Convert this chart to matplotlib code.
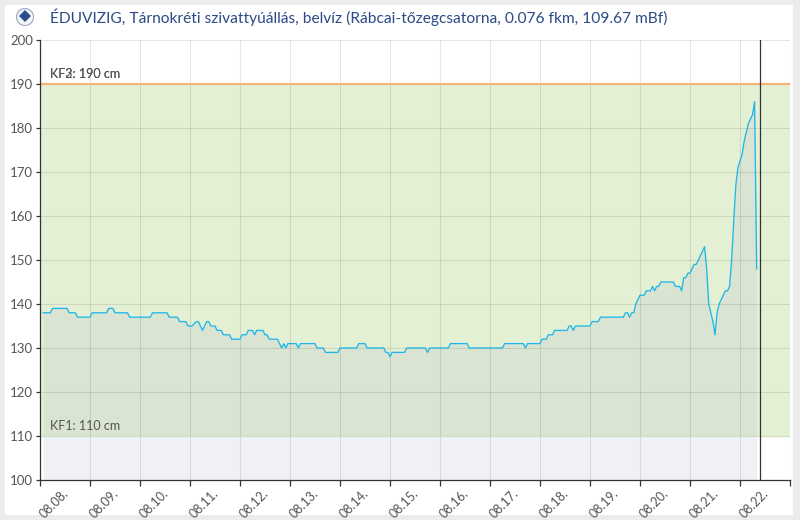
import matplotlib
matplotlib.use("Agg")
import matplotlib.pyplot as plt
from matplotlib.patches import Rectangle, Ellipse, Polygon
from matplotlib.transforms import ScaledTranslation, blended_transform_factory
import numpy as np

plt.rcParams['font.family'] = ['Lato', 'DejaVu Sans']

title = "ÉDUVIZIG, Tárnokréti szivattyúállás, belvíz (Rábcai-tőzegcsatorna, 0.076 fkm, 109.67 mBf)"

# hours since 08.08. 00:00
hours = [1.5, 5, 6, 13, 14, 17, 18, 24, 25, 32, 33, 35, 36, 42, 43, 53, 54, 61, 62, 66,
         67, 70, 71, 73, 75, 76, 78, 80, 81, 82, 84, 85, 87, 88, 91, 92, 96, 97, 99, 100,
         102, 103, 104, 107, 108, 109, 110, 114, 115, 116, 117, 118, 119, 123, 124, 125,
         132, 133, 136, 137, 143, 144, 152, 153, 156, 157, 165, 166, 167, 168, 169, 175,
         176, 185, 186, 187, 196, 197, 205, 206, 222, 223, 232, 233, 234, 240, 241, 243,
         244, 246, 247, 253, 254, 255, 256, 257, 264, 265, 268, 269, 280, 281, 282, 283,
         284, 285, 286, 287, 288, 290, 291, 293, 294, 295, 296, 297, 298, 304, 305, 307,
         308, 309, 310, 311, 312, 313, 314, 315, 317, 319, 320, 321, 323, 324, 325, 326,
         328, 329, 330, 331, 332, 333, 334, 335, 337, 338, 340, 342, 343, 344]
levels = [138, 138, 139, 139, 138, 138, 137, 137, 138, 138, 139, 139, 138, 138, 137, 137, 138, 138, 137, 137,
          136, 136, 135, 135, 136, 136, 134, 136, 136, 135, 135, 134, 134, 133, 133, 132, 132, 133, 133, 134,
          134, 133, 134, 134, 133, 133, 132, 132, 131, 130, 131, 130, 131, 131, 130, 131,
          131, 130, 130, 129, 129, 130, 130, 131, 131, 130, 130, 129, 129, 128, 129, 129,
          130, 130, 129, 130, 130, 131, 131, 130, 130, 131, 131, 130, 131, 131, 132, 132,
          133, 133, 134, 134, 135, 135, 134, 135, 135, 136, 136, 137, 137, 138, 138, 137,
          138, 138, 140, 141, 142, 142, 143, 143, 144, 143, 144, 144, 145, 145, 144, 144,
          143, 146, 146, 147, 147, 148, 149, 149, 151, 153, 148, 140, 136, 133, 138, 140,
          142, 143, 143, 144, 150, 159, 167, 171, 174, 177, 181, 183, 186, 148]

tick_labels = ["08.08.", "08.09.", "08.10.", "08.11.", "08.12.", "08.13.", "08.14.", "08.15.",
               "08.16.", "08.17.", "08.18.", "08.19.", "08.20.", "08.21.", "08.22."]
y_ticks = [100, 110, 120, 130, 140, 150, 160, 170, 180, 190, 200]

kf1 = 110
kf2 = 190
kf3 = 190
now_day = 14.4

days = np.array(hours) / 24.0
levels = np.array(levels, dtype=float)

W, H = 800, 520
fig = plt.figure(figsize=(W / 100, H / 100), dpi=100, facecolor="#ececec")
fig.patches.append(Rectangle((5 / W, 5 / H), 788 / W, 510 / H, transform=fig.transFigure,
                             facecolor="white", edgecolor="none", zorder=-10))

ax = fig.add_axes([40 / W, 40 / H, 750 / W, 440 / H])
ax.set_facecolor("none")
ax.set_xlim(0, 15)
ax.set_ylim(100, 200)

# plot band
ax.axhspan(kf1, kf2, color="#e4f0d4", zorder=0.1, lw=0)
# area fill
ax.fill_between(days, levels, 100, color=(0.62, 0.65, 0.80), alpha=0.15, lw=0, zorder=0.2)
# grid
ax.set_axisbelow(True)
ax.grid(True, color="black", alpha=0.1, lw=0.75)
# plot lines
ax.axhline(kf2, color="#f4b57a", lw=1.6, zorder=1)
ax.axhline(kf1, color="#cfe0bd", lw=0.9, zorder=1)
ax.axvline(now_day, color="#333333", lw=0.9, zorder=3)
# series
ax.plot(days, levels, color="#1fb6ea", lw=0.95, zorder=2)

lab_kw = dict(fontsize=9, color="#555555", zorder=4)
trans_lab = blended_transform_factory(ax.transAxes, ax.transData)
ax.text(10 / 750, kf2 + 1.4, "KF2: 190 cm", transform=trans_lab, **lab_kw)
ax.text(10 / 750, kf3 + 1.4, "KF3: 190 cm", transform=trans_lab, **lab_kw)
ax.text(10 / 750, kf1 + 1.4, "KF1: 110 cm", transform=trans_lab, **lab_kw)

for s in ["top", "right"]:
    ax.spines[s].set_visible(False)
for s in ["left", "bottom"]:
    ax.spines[s].set_color("#333333")
    ax.spines[s].set_linewidth(0.9)

ax.set_yticks(y_ticks)
ax.set_yticklabels([str(v) for v in y_ticks])
ax.tick_params(axis="y", length=3, width=0.9, color="#333333", labelsize=9.5,
               labelcolor="#555555", pad=2)
ax.set_xticks(np.arange(0, 16))
ax.set_xticklabels([])
ax.tick_params(axis="x", length=4, width=0.9, color="#333333", direction="out")

xtrans = blended_transform_factory(ax.transData, ax.transAxes) + \
    ScaledTranslation(22 / 100, -7 / 100, fig.dpi_scale_trans)
for i, lab in enumerate(tick_labels):
    ax.text(i, 0, lab, transform=xtrans, rotation=45, rotation_mode="anchor",
            ha="right", va="top", fontsize=9, color="#555555")

# title with logo
fig.patches.append(Ellipse((25 / W, 1 - 17 / H), 17 / W, 17 / H, transform=fig.transFigure,
                           facecolor="#f4f6fa", edgecolor="#9aa8c4", lw=0.8, zorder=2))
fig.patches.append(Polygon([[25 / W, 1 - 10 / H], [31 / W, 1 - 16 / H], [25 / W, 1 - 22 / H],
                            [19 / W, 1 - 16 / H]], closed=True, transform=fig.transFigure,
                           facecolor="#2b4f8c", edgecolor="none", zorder=3))
fig.text(50 / W, 1 - 17 / H, title, ha="left", va="center", fontsize=11.15, color="#2b4a86")

fig.savefig("out.png", dpi=100, facecolor=fig.get_facecolor())
